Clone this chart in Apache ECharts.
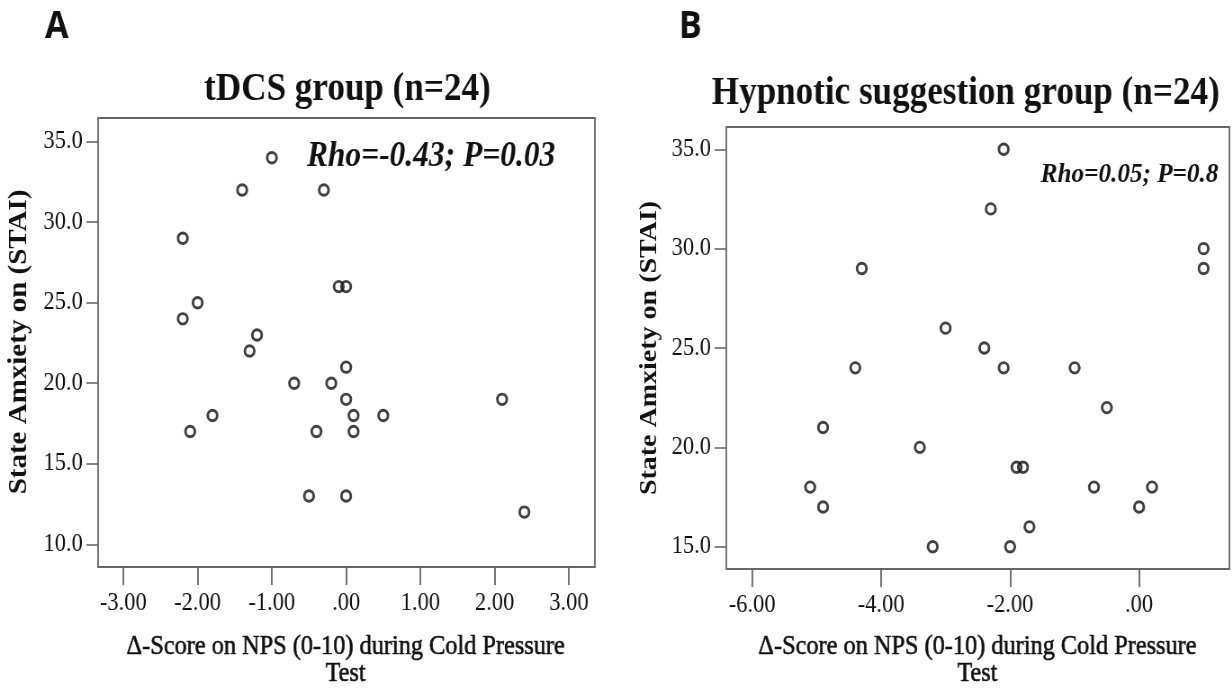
<!DOCTYPE html>
<html><head><meta charset="utf-8">
<script src="https://cdn.jsdelivr.net/npm/echarts@6/dist/echarts.min.js"></script>
<style>
html,body{margin:0;padding:0;overflow:hidden;background:#fff;width:1232px;height:692px;}
#wrap{width:1232px;height:692px;overflow:hidden;position:relative;}
#chart{width:1369px;height:692px;transform:scaleX(0.9);transform-origin:0 0;position:absolute;left:0;top:0;}
</style></head><body><div id="wrap"><div id="chart"></div></div>
<script>
// ---- data ----
const tdcsX = [-1.0, -1.4, -0.3, -2.2, -0.1, 0.0, -2.0, -2.2, -1.2, -1.3, 0.0, -0.7, -0.2, 0.0, 2.1, -1.8, 0.1, 0.5, -2.1, -0.4, 0.1, -0.5, 0.0, 2.4];
const tdcsY = [34, 32, 32, 29, 26, 26, 25, 24, 23, 22, 21, 20, 20, 19, 19, 18, 18, 18, 17, 17, 17, 13, 13, 12];
const hypX = [-2.1, -2.3, 1.0, 1.0, -4.3, -3.0, -2.4, -4.4, -2.1, -1.0, -0.5, -4.9, -3.4, -1.9, -1.8, -5.1, -0.7, 0.2, -4.9, 0.0, -1.7, -3.2, -2.0];
const hypY = [35, 32, 30, 29, 29, 26, 25, 24, 24, 24, 22, 21, 20, 19, 19, 18, 18, 18, 17, 17, 16, 15, 15];
const xTicksA = [-3, -2, -1, 0, 1, 2, 3];
const yTicksA = [10, 15, 20, 25, 30, 35];
const xTicksB = [-6, -4, -2, 0];
const yTicksB = [15, 20, 25, 30, 35];
const titleA = 'tDCS group (n=24)';
const titleB = 'Hypnotic suggestion group (n=24)';
const statA = 'Rho=-0.43; P=0.03';
const statB = 'Rho=0.05; P=0.8';
const xName = '\u0394-Score on NPS (0-10) during Cold Pressure\nTest';
const yName = 'State Amxiety on (STAI)';

const SERIF = '"Liberation Serif", "Times New Roman", serif';
const boxColor = '#666666';
const fmtX = v => (Math.abs(v) < 1e-9 ? '.00' : v.toFixed(2));
const fmtY = v => v.toFixed(1);

function xAxis(grid, min, max, ticks) {
  return {
    type: 'value', gridIndex: grid, min: min, max: max,
    axisLine: { show: false, onZero: false }, splitLine: { show: false },
    axisTick: { show: true, customValues: ticks, length: 18, lineStyle: { color: boxColor, width: 1.8 } },
    axisLabel: { customValues: ticks, formatter: fmtX, fontFamily: SERIF, fontSize: 25, color: '#111', margin: 24 }
  };
}
function yAxis(grid, min, max, ticks) {
  return {
    type: 'value', gridIndex: grid, min: min, max: max,
    axisLine: { show: false, onZero: false }, splitLine: { show: false },
    axisTick: { show: true, customValues: ticks, length: 13, lineStyle: { color: boxColor, width: 1.6 } },
    axisLabel: { customValues: ticks, formatter: fmtY, fontFamily: SERIF, fontSize: 25, color: '#111', margin: 17 }
  };
}
function txt(text, x, y, font, rot, heavy) {
  const style = { text: text, font: font, fill: '#111', align: 'center', verticalAlign: 'middle',
                  textAlign: 'center', textVerticalAlign: 'middle', lineHeight: 27 };
  if (heavy) { style.stroke = '#111'; style.lineWidth = 0.6; }
  return { type: 'text', x: x, y: y, rotation: rot || 0, style: style };
}
const marker = { color: 'rgba(0,0,0,0)', borderColor: '#111', borderWidth: 2.9 };

const chart = echarts.init(document.getElementById('chart'), null, { renderer: 'canvas' });
chart.setOption({
  animation: false,
  backgroundColor: '#fff',
  grid: [
    { left: 109, top: 118, width: 552, height: 449, show: true, borderColor: boxColor, borderWidth: 1.8, containLabel: false },
    { left: 807, top: 127, width: 559, height: 442, show: true, borderColor: boxColor, borderWidth: 1.8, containLabel: false }
  ],
  xAxis: [xAxis(0, -3.34, 3.35, xTicksA), xAxis(1, -6.40, 1.40, xTicksB)],
  yAxis: [yAxis(0, 8.59, 36.47, yTicksA), yAxis(1, 13.88, 36.12, yTicksB)],
  series: [
    { type: 'scatter', xAxisIndex: 0, yAxisIndex: 0, symbol: 'circle', symbolSize: 10.5,
      itemStyle: marker, data: tdcsX.map((x, i) => [x, tdcsY[i]]) },
    { type: 'scatter', xAxisIndex: 1, yAxisIndex: 1, symbol: 'circle', symbolSize: 10.5,
      itemStyle: marker, data: hypX.map((x, i) => [x, hypY[i]]) }
  ],
  graphic: [
    txt('A', 63, 27, 'bold 38px "Open Sans", sans-serif'),
    txt('B', 767, 27, 'bold 38px "Open Sans", sans-serif'),
    txt(titleA, 386, 90, 'bold 39px ' + SERIF),
    txt(titleB, 1073, 94, 'bold 39px ' + SERIF),
    txt(statA, 479, 157, 'italic bold 35px ' + SERIF),
    txt(statB, 1255, 175, 'italic bold 28px ' + SERIF),
    txt(xName, 384, 660, '27px ' + SERIF, 0, true),
    txt(xName, 1086, 660, '27px ' + SERIF, 0, true),
    txt(yName, 22, 342, 'bold 29px ' + SERIF, Math.PI / 2),
    txt(yName, 722, 348, 'bold 28px ' + SERIF, Math.PI / 2)
  ]
});
</script>
</body></html>
